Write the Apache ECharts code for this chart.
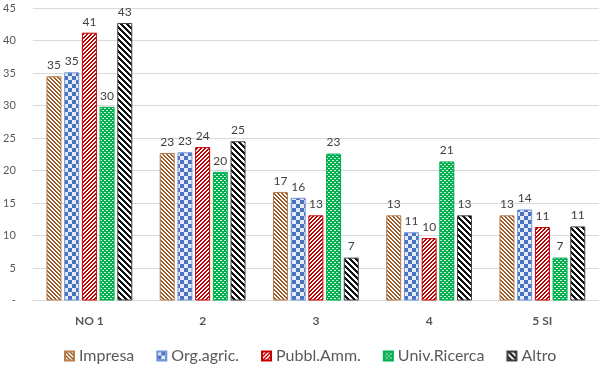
<!DOCTYPE html>
<html>
<head>
<meta charset="utf-8">
<script src="https://cdn.jsdelivr.net/npm/echarts@6/dist/echarts.min.js"></script>
<style>
html,body{margin:0;padding:0;background:#fff;}
#chart{width:599px;height:369px;}
</style>
</head>
<body>
<div id="chart"></div>
<script>
var categories = ['NO 1', '2', '3', '4', '5 SI'];
var seriesNames = ['Impresa', 'Org.agric.', 'Pubbl.Amm.', 'Univ.Ricerca', 'Altro'];
var impresa = [34.5, 22.7, 16.7, 13.1, 13.1];
var orgAgric = [35.1, 22.8, 15.8, 10.5, 14.0];
var pubblAmm = [41.2, 23.6, 13.1, 9.6, 11.3];
var univRicerca = [29.8, 19.8, 22.6, 21.4, 6.6];
var altro = [42.7, 24.5, 6.6, 13.1, 11.4];
var yTicks = [0, 5, 10, 15, 20, 25, 30, 35, 40, 45];

function makeTile(size, painter) {
  var c = document.createElement('canvas');
  c.width = size; c.height = size;
  var ctx = c.getContext('2d');
  var img = ctx.createImageData(size, size);
  for (var y = 0; y < size; y++) {
    for (var x = 0; x < size; x++) {
      var col = painter(x, y);
      var i = (y * size + x) * 4;
      img.data[i] = col[0]; img.data[i+1] = col[1]; img.data[i+2] = col[2]; img.data[i+3] = 255;
    }
  }
  ctx.putImageData(img, 0, 0);
  return c;
}
function hex(h){ return [parseInt(h.substr(1,2),16), parseInt(h.substr(3,2),16), parseInt(h.substr(5,2),16)]; }
var W = [255,255,255];
var pBrown = makeTile(4, function(x,y){ return ((x - y + 8) % 4) < 2 ? hex('#9a5a28') : W; });
var pChecker = makeTile(8, function(x,y){ return ((Math.floor(x/4) + Math.floor(y/4)) % 2) ? hex('#4a72c0') : hex('#e4ecf8'); });
var pRed = makeTile(4, function(x,y){ return ((x + y) % 4) < 2 ? hex('#c00000') : W; });
var pGreen = makeTile(4, function(x,y){
  if ((y === 0 && (x === 0 || x === 1)) || (y === 2 && (x === 2 || x === 3))) return hex('#d8f5e4');
  return hex('#00b050');
});
var pBlack = makeTile(6, function(x,y){ return ((x - y + 12) % 6) < 3 ? hex('#111111') : W; });

var patterns = [pBrown, pChecker, pRed, pGreen, pBlack];
var borders = ['#b57c4c', '#6f93d4', '#c00000', '#00b050', '#404040'];
var values = [impresa, orgAgric, pubblAmm, univRicerca, altro];

var series = seriesNames.map(function(name, k){
  return {
    name: name,
    type: 'bar',
    data: values[k],
    barWidth: 15,
    barGap: '18%',
    itemStyle: {
      color: { image: patterns[k], repeat: 'repeat' },
      borderColor: borders[k],
      borderWidth: 1
    },
    label: {
      show: true,
      position: 'top',
      distance: 5,
      color: '#404040',
      fontFamily: 'Lato',
      fontSize: 12,
      formatter: function(p){ return Math.round(p.value); }
    }
  };
});

var chart = echarts.init(document.getElementById('chart'), null, {renderer: 'canvas'});
chart.setOption({
  animation: false,
  textStyle: { fontFamily: 'Lato' },
  grid: { left: 32, top: 8, width: 572.5, height: 292.5, containLabel: false },
  legend: {
    data: seriesNames,
    left: 59,
    top: 343,
    icon: 'rect',
    itemWidth: 9,
    itemHeight: 9,
    itemGap: 22,
    textStyle: { color: '#595959', fontSize: 16, fontFamily: 'Lato' }
  },
  xAxis: {
    type: 'category',
    data: categories,
    axisLine: { show: true, lineStyle: { color: '#d9d9d9' } },
    axisTick: { show: false },
    axisLabel: { color: '#595959', fontWeight: 'bold', fontSize: 12, margin: 15, fontFamily: 'Lato' }
  },
  yAxis: {
    type: 'value',
    min: yTicks[0],
    max: yTicks[yTicks.length - 1],
    interval: 5,
    axisLine: { show: false },
    axisTick: { show: false },
    splitLine: { lineStyle: { color: '#d9d9d9' } },
    axisLabel: {
      color: '#595959', fontSize: 11, margin: 17, fontFamily: 'Lato',
      formatter: function(v){ return v === 0 ? '-' : String(v); }
    }
  },
  series: series
});
</script>
</body>
</html>
